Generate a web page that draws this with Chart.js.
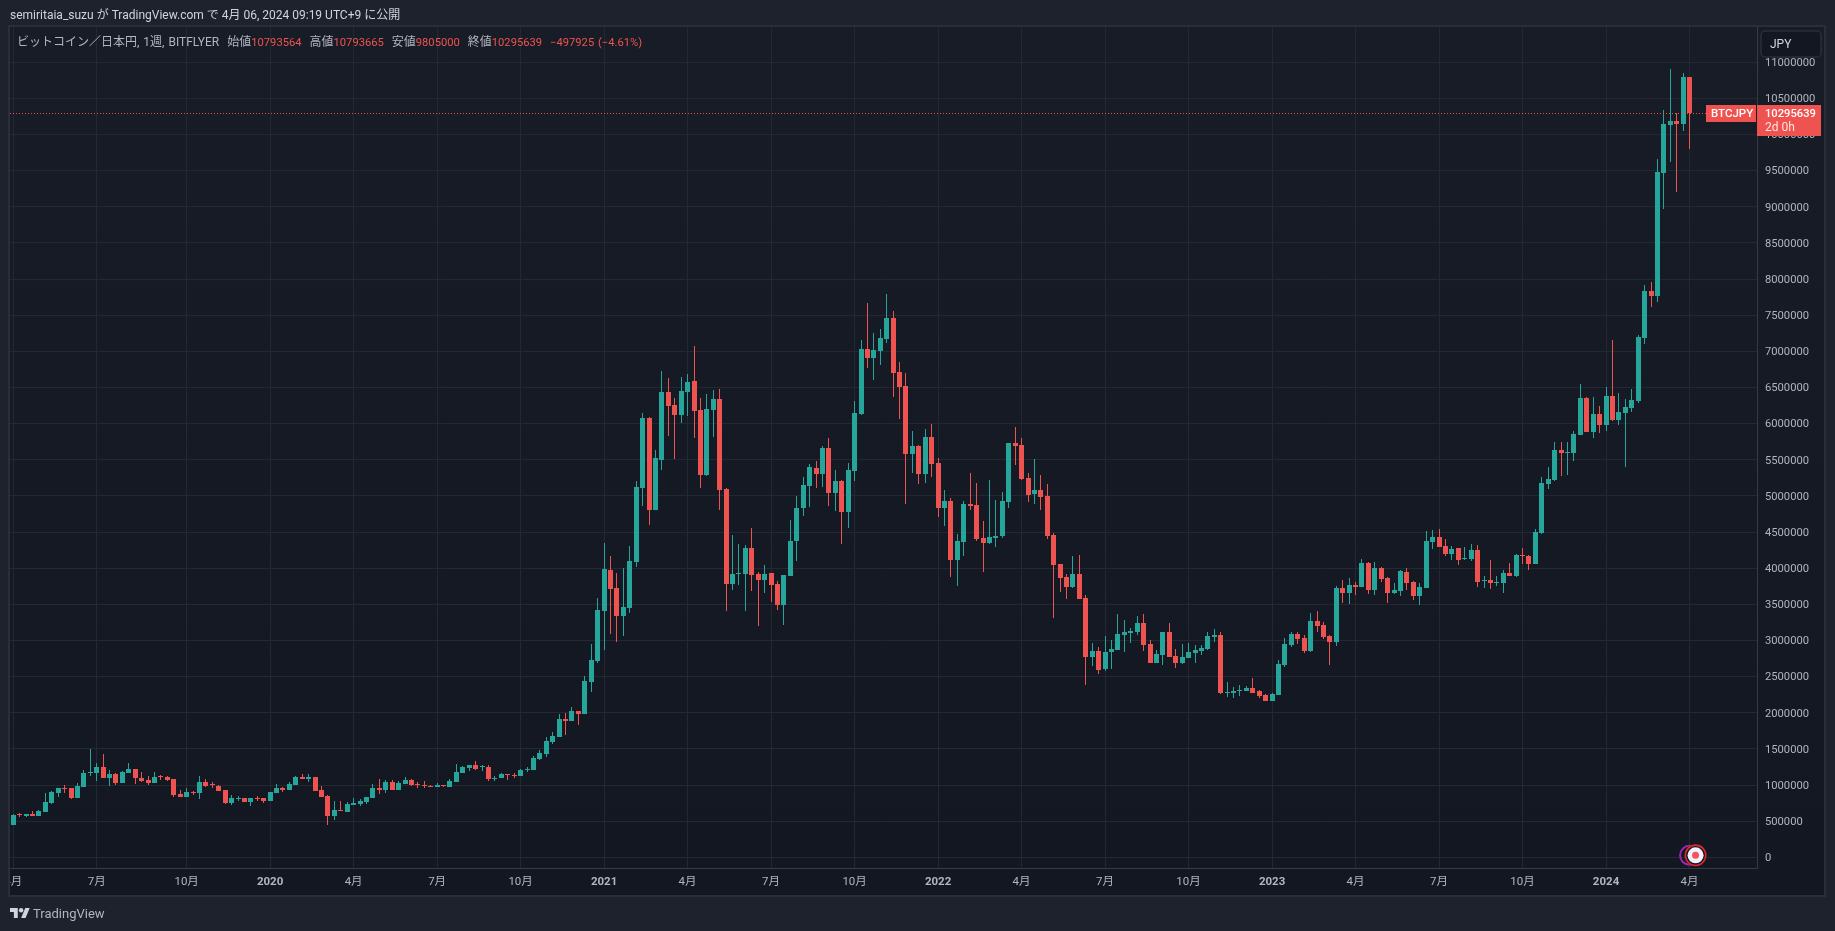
<!DOCTYPE html>
<html lang="ja"><head><meta charset="utf-8">
<script src="https://cdn.jsdelivr.net/npm/chart.js@4/dist/chart.umd.min.js"></script>
<style>
html,body{margin:0;padding:0;background:#1E222D;width:1835px;height:931px;overflow:hidden}
#c{position:absolute;left:0;top:0}
.t{position:absolute;white-space:nowrap;font-family:Roboto,"Noto Sans CJK JP",sans-serif}
#head{left:10px;top:7px;font-size:12px;line-height:16px;color:#D1D4DC}
#legend{left:17px;top:34px;font-size:12px;line-height:16px;color:#B2B5BE;word-spacing:1px}
#legend b{font-weight:400;font-size:11.2px;color:#EF5350}
#brand{left:33px;top:905px;font-size:13px;line-height:18px;color:#B2B5BE}
#logo{position:absolute;left:10px;top:908px}
</style></head><body>
<canvas id="c" width="1835" height="931"></canvas>
<div class="t" id="head">semiritaia_suzu が TradingView.com で 4月 06, 2024 09:19 UTC+9 に公開</div>
<div class="t" id="legend">ビットコイン／日本円, 1週, BITFLYER&nbsp; 始値<b>10793564</b>&nbsp; 高値<b>10793665</b>&nbsp; 安値<b>9805000</b>&nbsp; 終値<b>10295639</b>&nbsp; <b>−497925 (−4.61%)</b></div>
<svg id="logo" width="20" height="10" viewBox="0 4 36 18"><path fill="#D1D4DC" d="M14 22H7V11H0V4h14v18zM28 22h-8l7.5-18h8L28 22z"/><circle fill="#D1D4DC" cx="20" cy="8" r="4"/></svg>
<div class="t" id="brand">TradingView</div>
<script>
// weekly candles, values in thousands of JPY
const opens=[447,590,576,595,576,632,752,895,955,955,826,978,1171,1171,1245,1102,1148,1033,1171,1218,
1093,1070,1033,1121,1107,1079,876,839,904,895,1038,1010,987,927,756,807,816,770,816,816,
784,895,955,936,1005,1107,1088,1107,932,844,576,650,632,724,743,766,826,955,932,1038,
932,1015,1070,1010,1001,992,978,996,973,1042,1167,1236,1273,1245,1245,1088,1098,1153,1139,1125,
1213,1208,1361,1430,1596,1665,1914,1886,2025,1983,2426,2716,3408,3976,3727,3339,3450,4086,5110,6079,
4806,5497,6438,6258,6120,6438,6591,6189,5290,6189,6342,5096,3782,3925,3920,4280,3920,3837,3934,3782,
3491,3893,4377,4833,5138,5387,5304,5664,5041,5207,4778,5345,6134,7033,6909,7006,7172,7462,6715,6521,
5581,5691,5304,5816,5456,4833,4930,4114,4363,4889,4875,4418,4349,4418,4446,4916,5733,5705,5248,5027,
5082,4999,4460,4059,3879,3740,3920,3588,2772,2855,2606,2841,2869,3076,3104,3118,3242,2952,2689,2800,
3118,2786,2689,2758,2827,2855,2882,3049,3076,2274,2274,2302,2302,2343,2302,2246,2163,2246,2661,2938,
3090,3035,2855,3270,3215,3062,2979,3726,3657,3768,3740,4072,3699,4003,3865,3657,3685,3948,3810,3616,
3726,4363,4432,4308,4197,4280,4128,4128,4252,3828,3837,3800,3796,3934,3893,4183,4169,4059,4487,5165,
5221,5636,5599,5594,5843,6355,5885,6134,5982,6383,6051,6148,6217,6314,7185,7836,7767,9468,10132,10188,
10146,10794];
const highs=[595,613,595,636,650,885,918,955,996,955,1024,1204,1494,1301,1425,1204,1162,1190,1301,1218,
1176,1121,1176,1135,1121,1079,927,955,922,1121,1079,1038,996,927,858,844,826,826,844,816,
909,1010,969,1038,1121,1148,1148,1107,982,858,775,775,770,816,802,830,1015,1079,1065,1065,
1052,1107,1079,1038,1056,996,1024,1005,1079,1287,1259,1273,1333,1273,1273,1121,1167,1153,1167,1222,
1250,1402,1485,1665,1734,1983,1997,2080,2025,2509,2952,3588,4349,4169,3934,4003,4308,5207,6148,6092,
5636,6729,6632,6355,6646,6687,7075,6355,6411,6466,6480,5110,4460,4335,4321,4557,3948,4045,3934,3823,
3906,4667,4999,5262,5442,5484,5691,5802,5359,5221,5456,6314,7158,7670,7255,7310,7794,7559,6853,6701,
5899,5705,5926,5996,5525,5082,4972,4474,4930,5318,5179,4654,5221,4944,5055,5733,5954,5802,5318,5511,
5290,5165,4487,4059,3920,4169,4183,3630,2965,2910,3062,3007,3367,3284,3173,3339,3367,3007,2869,3118,
3242,2882,2952,2965,2938,2938,3118,3159,3118,2426,2357,2385,2371,2481,2315,2260,2274,2730,3035,3118,
3118,3076,3381,3408,3256,3076,3754,3837,3865,3809,4128,4086,4086,4017,3879,3796,3976,4003,3823,3796,
4515,4529,4543,4404,4308,4280,4294,4335,4321,3893,4114,3893,3976,4072,4197,4280,4183,4543,5262,5401,
5747,5747,5747,5899,6549,6369,6369,6245,6507,7158,6425,6342,6480,7227,7919,7960,9662,10340,10907,10294,
10852,10794];
const lows=[447,558,558,576,576,632,738,835,895,807,826,978,1125,1056,1102,987,1001,1033,1171,1019,
1047,1005,1033,1075,1061,839,835,839,862,812,978,964,918,743,729,779,766,715,784,756,
784,895,909,936,1005,1079,1047,922,839,447,521,641,632,724,715,743,826,876,895,932,
932,1015,987,964,964,973,973,973,973,1042,1167,1195,1213,1195,1061,1061,1098,1070,1098,1125,
1181,1208,1347,1388,1568,1665,1693,1886,1831,1983,2288,2689,2869,3090,2979,3062,3381,4017,4861,4598,
4806,5359,5830,5511,6010,6106,5802,5110,5276,5816,4806,3408,3699,3768,3408,3685,3201,3657,3533,3422,
3215,3893,4100,4723,4847,5110,5124,4861,4792,4335,4557,5207,6120,6770,6604,6812,7116,6369,6065,4889,
5318,5165,5179,5262,4709,4584,3879,3754,4169,4806,4377,3948,4335,4294,4418,4833,5428,5221,4916,4889,
4806,4404,3311,3671,3574,3726,3574,2384,2647,2537,2578,2606,2869,2841,2965,3076,2855,2689,2689,2661,
2772,2620,2675,2758,2689,2800,2869,2979,2260,2218,2204,2232,2302,2274,2204,2163,2163,2246,2633,2910,
2952,2827,2841,3118,3021,2661,2924,3519,3505,3630,3740,3644,3630,3810,3519,3644,3616,3699,3561,3491,
3726,4266,4294,4169,4114,4045,4114,4100,3740,3726,3713,3754,3657,3893,3879,4059,3976,4059,4474,5096,
5207,5276,5290,5484,5843,5885,5802,5871,5899,6037,5982,5401,6162,6286,7102,7619,7688,8970,9621,9205,
10049,9805];
const closes=[586,581,595,576,641,761,904,955,945,821,987,1162,1181,1245,1102,1148,1028,1181,1218,1098,
1052,1033,1111,1111,1070,862,839,899,895,1038,987,1001,922,756,821,816,770,816,807,779,
904,955,932,1015,1107,1084,1107,922,839,576,650,641,738,747,775,830,955,932,1038,932,
1024,1070,1001,996,992,978,1001,987,1052,1176,1245,1273,1222,1254,1084,1098,1153,1144,1130,1208,
1222,1374,1444,1610,1679,1914,1886,2025,1983,2440,2730,3422,3989,3713,3339,3464,4100,5124,6079,4806,
5525,6438,6245,6120,6452,6577,6175,5290,6203,6342,5082,3782,3920,3934,4280,3906,3837,3920,3768,3491,
3906,4377,4833,5152,5401,5304,5664,5041,5207,4778,5359,6148,7033,6909,7019,7186,7462,6701,6508,5581,
5691,5304,5816,5442,4833,4930,4114,4377,4889,4861,4404,4349,4432,4446,4930,5733,5691,5235,5013,5082,
4986,4446,4045,3865,3740,3920,3574,2772,2855,2592,2841,2882,3090,3118,3132,3242,2938,2689,2813,3118,
2772,2689,2772,2841,2869,2896,3062,3076,2274,2288,2302,2315,2343,2274,2232,2163,2260,2675,2952,3090,
3021,2855,3270,3201,3049,2979,3726,3657,3768,3740,4072,3699,4003,3851,3657,3699,3962,3796,3616,3740,
4377,4432,4294,4197,4266,4114,4142,4252,3810,3837,3796,3810,3934,3893,4183,4174,4059,4501,5179,5235,
5636,5594,5608,5857,6355,5885,6134,5982,6383,6051,6162,6231,6328,7199,7836,7767,9482,10146,10188,10146,
10794,10296];
// time axis: one slot per week, ten empty slots to the right of the last candle
const weekSlots=272;
const tickIndex=[0,13,27,40,53,66,79,92,105,118,131,144,157,170,183,196,209,222,235,248,261];
const tickLabels=['4月','7月','10月','2020','4月','7月','10月','2021','4月','7月','10月','2022','4月','7月','10月','2023','4月','7月','10月','2024','4月'];
const priceTicksMax=11000000, priceStep=500000;
const lastPrice=10295639, symbolTag='BTCJPY', countdown='2d 0h', currency='JPY';

const UP='#26A69A', DOWN='#EF5350';
const labels=new Array(weekSlots).fill('');
tickIndex.forEach((ix,n)=>labels[ix]=tickLabels[n]);
const K=1000;
const barColors=closes.map((c,i)=>c>=opens[i]?UP:DOWN);
const wicks=lows.map((l,i)=>[l*K,highs[i]*K]);
const bodies=opens.map((o,i)=>[Math.min(o,closes[i])*K,Math.max(o,closes[i])*K]);
const FONT='Roboto,"Noto Sans CJK JP",sans-serif';

const frame={id:'frame',
 beforeDraw(ch){const g=ch.ctx;g.save();
  g.fillStyle='#1E222D';g.fillRect(0,0,1835,931);
  const gr=g.createLinearGradient(0,27,0,896);gr.addColorStop(0,'#181C27');gr.addColorStop(1,'#131722');
  g.fillStyle=gr;g.fillRect(9,26,1817,871);
  g.strokeStyle='#2A2E39';g.lineWidth=2;g.strokeRect(9,26,1816,870);
  g.restore();},
 // snap every candle to whole pixels so bodies and wicks stay crisp
 beforeDatasetsDraw(ch){
  ch.data.datasets.forEach((d,k)=>{ch.getDatasetMeta(k).data.forEach(el=>{
   el.x=Math.round(el.x-.5)+.5;
   const top=Math.round(Math.min(el.y,el.base)),bot=Math.round(Math.max(el.y,el.base));
   el.y=top;el.base=bot>top?bot:top+1;
  });});},
 afterDatasetsDraw(ch){const g=ch.ctx,y=ch.scales.y,a=ch.chartArea;g.save();
  const py=Math.round(y.getPixelForValue(lastPrice))+.5;
  g.strokeStyle=DOWN;g.lineWidth=1;g.setLineDash([1,2]);
  g.beginPath();g.moveTo(a.left,py);g.lineTo(1706,py);g.stroke();g.restore();},
 afterDraw(ch){const g=ch.ctx,y=ch.scales.y,x=ch.scales.x;g.save();
  // clip the first time label at the pane edge
  g.fillStyle='#1E222D';g.fillRect(0,869,9,27);
  g.fillStyle='#2A2E39';g.fillRect(8,26,2,871);
  const py=Math.round(y.getPixelForValue(lastPrice));
  // price and symbol tags
  g.fillStyle=DOWN;g.fillRect(1706,py-8,50,17);g.fillRect(1757,py-8,64,31);
  g.textBaseline='middle';g.textAlign='left';
  g.fillStyle='#FFFFFF';g.font='500 11.5px '+FONT;
  g.fillText(symbolTag,1711,py+1);
  g.font='500 11.2px '+FONT;
  g.fillText(String(lastPrice),1765,py+1);
  g.fillStyle='#FFE3E2';g.font='12px '+FONT;g.fillText(countdown,1765,py+15);
  // currency button
  g.fillStyle='#131722';g.strokeStyle='#2A2E39';g.lineWidth=1.5;
  g.beginPath();g.roundRect(1761,31,60,26,4);g.fill();g.stroke();
  g.fillStyle='#D1D4DC';g.font='12px '+FONT;g.fillText(currency,1770,44.5);
  // bottom badges
  const bx=x.getPixelForValue(261),by=y.getPixelForValue(0)-2;
  g.strokeStyle='#9C27B0';g.lineWidth=2;g.beginPath();g.arc(bx+0,by,9.5,0,Math.PI*2);g.stroke();
  g.fillStyle='#131722';g.beginPath();g.arc(bx+6,by,11,0,Math.PI*2);g.fill();
  g.strokeStyle='#E5252F';g.lineWidth=1.6;g.beginPath();g.arc(bx+6,by,10.2,0,Math.PI*2);g.stroke();
  g.fillStyle='#F0F3FA';g.beginPath();g.arc(bx+6,by,8,0,Math.PI*2);g.fill();
  g.fillStyle='#F7525F';g.beginPath();g.arc(bx+6,by,3.5,0,Math.PI*2);g.fill();
  g.restore();}
};

new Chart(document.getElementById('c'),{
 type:'bar',
 plugins:[frame],
 data:{labels,datasets:[
  {label:'wick',data:wicks,backgroundColor:barColors,barThickness:1,grouped:false,order:2,borderSkipped:false,inflateAmount:0},
  {label:'body',data:bodies,backgroundColor:barColors,barThickness:5,minBarLength:1,grouped:false,order:1,borderSkipped:false,inflateAmount:0}
 ]},
 options:{
  responsive:false,animation:false,devicePixelRatio:1,
  layout:{autoPadding:false,padding:{left:10,top:27,right:10,bottom:35}},
  plugins:{legend:{display:false},tooltip:{enabled:false},title:{display:false}},
  scales:{
   x:{type:'category',offset:true,
    afterBuildTicks(s){s.ticks=tickIndex.map(v=>({value:v}));},
    afterFit(s){s.height=28;s.paddingLeft=0;s.paddingRight=0;},
    grid:{offset:false,color:'#242832',lineWidth:1,drawTicks:false},
    border:{color:'#363A45',width:1},
    ticks:{autoSkip:false,maxRotation:0,padding:7,color:'#B2B5BE',
     callback:v=>labels[v],
     font:c=>({family:FONT,size:11.5,weight:(c.tick&&/^20/.test(labels[c.tick.value]))?'700':'400'})}
   },
   y:{type:'linear',position:'right',min:-148000,max:11488000,
    afterBuildTicks(s){const t=[];for(let v=0;v<=priceTicksMax;v+=priceStep)t.push({value:v});s.ticks=t;},
    afterFit(s){s.width=68;s.paddingTop=0;s.paddingBottom=0;},
    grid:{color:'#242832',lineWidth:1,drawTicks:false},
    border:{color:'#363A45',width:1},
    ticks:{padding:8,labelOffset:1,color:'#B2B5BE',autoSkip:false,callback:v=>String(v),font:{family:FONT,size:11.2}}
   }
  }
 }
});
</script>
</body></html>
